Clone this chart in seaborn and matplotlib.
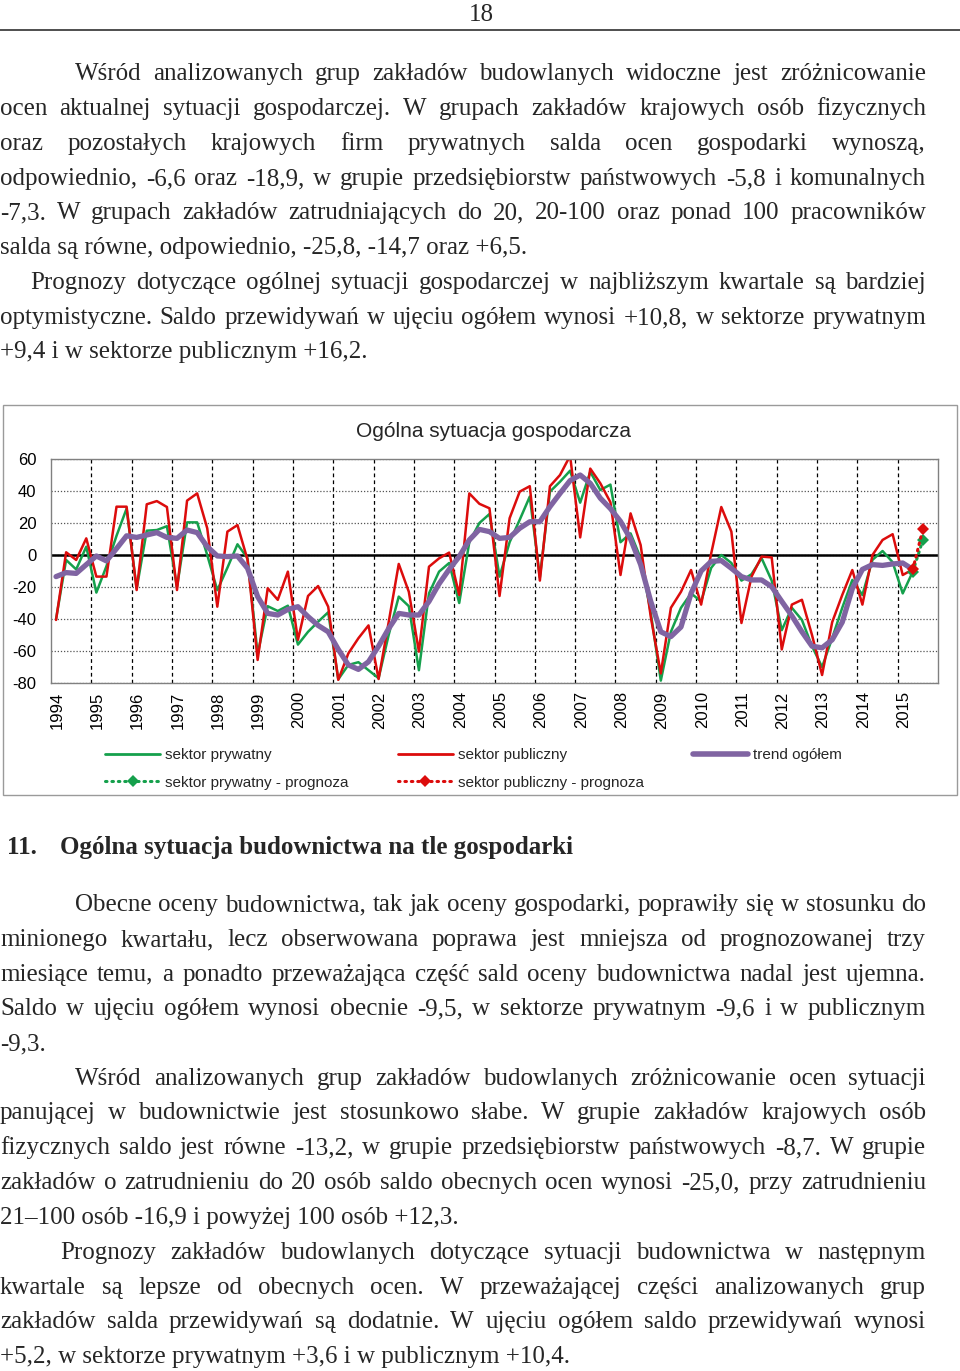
import numpy as np
import pandas as pd
import matplotlib
matplotlib.use("Agg")
import matplotlib.pyplot as plt
import seaborn as sns
from matplotlib.lines import Line2D
from matplotlib.patches import Rectangle

sns.set_theme(style="white")
plt.rcParams['font.family'] = ['Liberation Sans', 'DejaVu Sans']
plt.rcParams['axes.unicode_minus'] = False

# ---------------- data ----------------
start_year = 1994
tick_years = [str(y) for y in range(1994, 2016)]

sektor_prywatny = [
    -40.0, -3.1, -9.0, 5.2,
    -23.5, -7.0, 12.0, 29.0,
    -21.0, 15.2, 15.6, 18.0,
    -20.0, 20.4, 20.4, 0.0,
    -22.0, -8.0, 6.7, -2.0,
    -62.0, -32.0, -35.0, -31.7,
    -56.0, -48.0, -41.7, -35.8,
    -77.7, -68.7, -67.0, -72.0,
    -77.0, -50.0, -26.0, -32.0,
    -72.0, -24.0, -10.4, -5.0,
    -30.0, 8.0, 20.0, 25.6,
    -13.5, 8.0, 22.0, 36.5,
    -14.0, 39.6, 45.8, 52.7,
    32.7, 52.0, 40.6, 44.0,
    8.0, 13.5, -2.0, -36.0,
    -78.5, -48.0, -33.0, -24.0,
    -29.0, -8.0, 0.0, -5.0,
    -16.0, -12.0, -2.0, -16.0,
    -47.0, -33.0, -40.6, -57.0,
    -70.0, -52.0, -33.0, -15.6,
    -25.0, -3.0, 2.5, -4.5,
    -24.0, -10.4,
]

sektor_publiczny = [
    -40.6, 1.7, -3.1, 10.4,
    -13.5, -13.5, 30.2, 30.2,
    -21.9, 31.7, 33.7, 30.0,
    -21.9, 34.0, 38.5, 16.7,
    -32.3, 14.6, 18.7, -3.0,
    -65.6, -20.8, -28.0, -10.4,
    -53.0, -25.6, -19.4, -32.3,
    -78.0, -61.5, -52.0, -44.0,
    -77.5, -42.0, -5.6, -23.0,
    -60.4, -7.3, -2.1, 1.5,
    -25.0, 38.5, 32.0, 29.2,
    -25.6, 23.0, 39.6, 43.0,
    -16.0, 43.0, 50.0, 62.0,
    11.0, 54.0, 44.8, 33.0,
    -12.5, 26.0, 6.2, -38.5,
    -74.0, -33.0, -23.0, -9.4,
    -31.0, 1.0, 30.0, 14.6,
    -42.5, -13.5, -1.0, -1.5,
    -59.0, -31.0, -28.0, -50.0,
    -75.0, -42.0, -25.0, -9.4,
    -31.0, 0.0, 9.4, 13.0,
    -12.5, -9.0,
]

trend_ogolem = [
    -13.5, -11.0, -11.5, -6.0,
    -0.6, -3.7, 4.0, 12.0,
    11.0, 12.5, 14.0, 11.0,
    10.4, 15.6, 14.0, 5.2,
    -0.6, -1.0, -0.6, -8.3,
    -26.0, -36.5, -37.5, -34.0,
    -32.3, -38.5, -44.0, -48.0,
    -59.0, -68.7, -71.5, -66.7,
    -57.0, -46.0, -36.5, -37.5,
    -37.5, -29.0, -18.0, -9.0,
    -1.0, 9.4, 16.0, 14.6,
    10.4, 11.0, 16.7, 20.8,
    20.8, 30.2, 38.5, 46.5,
    50.0, 44.8, 35.5, 29.0,
    21.0, 10.0, -6.0, -29.0,
    -48.0, -51.0, -45.0, -24.0,
    -10.0, -4.0, -3.5, -8.3,
    -13.5, -15.6, -15.6, -19.8,
    -29.0, -38.0, -48.0, -57.0,
    -58.0, -53.0, -42.0, -21.0,
    -9.0, -6.0, -6.5, -5.6,
    -5.0, -9.0,
]

prognoza_prywatny = [-10.4, 9.4]
prognoza_publiczny = [-9.0, 16.2]

labels = ["sektor prywatny", "sektor prywatny - prognoza", "sektor publiczny",
          "sektor publiczny - prognoza", "trend ogółem"]

# ---------------- figure ----------------
W, H = 960, 1371
fig = plt.figure(figsize=(W / 100, H / 100), dpi=100)
fig.patch.set_facecolor("white")

def fx(x):
    return x / W

def fy(y):
    return 1 - y / H

GREEN = "#15a04c"
RED = "#dc0c0c"
PURPLE = "#8064a2"

ax = fig.add_axes([fx(51), fy(683), (938 - 51) / W, (683 - 459) / H])

n = len(sektor_publiczny)
t = start_year + (np.arange(n) + 0.5) / 4
df = pd.DataFrame({"t": t, "prywatny": sektor_prywatny,
                   "publiczny": sektor_publiczny, "trend": trend_ogolem})
fc = pd.DataFrame({"t": [t[-1], t[-1] + 0.25],
                   "prywatny": prognoza_prywatny, "publiczny": prognoza_publiczny})

sns.lineplot(data=df, x="t", y="prywatny", color=GREEN, lw=1.8, ax=ax)
sns.lineplot(data=df, x="t", y="publiczny", color=RED, lw=1.8, ax=ax)
sns.lineplot(data=df, x="t", y="trend", color=PURPLE, lw=3.8, ax=ax,
             solid_joinstyle="round", solid_capstyle="round")
sns.lineplot(data=fc, x="t", y="prywatny", color=GREEN, lw=2.2, ax=ax,
             linestyle=(0, (0.5, 1.6)), dash_capstyle="round",
             marker="D", markersize=6, markeredgewidth=0)
sns.lineplot(data=fc, x="t", y="publiczny", color=RED, lw=2.2, ax=ax,
             linestyle=(0, (0.5, 1.6)), dash_capstyle="round",
             marker="D", markersize=6, markeredgewidth=0)

ax.axhline(0, color="black", lw=1.8, zorder=1)
ax.set_xlim(1994, 2016)
ax.set_ylim(-80, 60)
ax.set_yticks(range(-80, 61, 20))
ax.set_xticks(np.arange(1995, 2016), minor=True)
ax.set_xticks(np.arange(1994, 2016) + 0.15, labels=tick_years, rotation=90)
ax.grid(which="minor", axis="x", color="black", lw=0.9, ls=(0, (3, 2.5)))
ax.grid(which="major", axis="y", color="#555555", lw=0.9, ls=(0, (1, 1.5)))
ax.grid(which="major", axis="x", visible=False)
ax.set_xlabel("")
ax.set_ylabel("")
ax.tick_params(axis="both", length=0, labelsize=12, colors="black")
ax.tick_params(axis="y", pad=10.5)
ax.tick_params(axis="x", pad=6)
for s in ax.spines.values():
    s.set_color("#808080")
    s.set_linewidth(1.0)
ax.set_facecolor("white")

fig.text(fx(493), fy(431), "Ogólna sytuacja gospodarcza", ha="center",
         va="center", fontsize=15)

handles = [
    Line2D([], [], color=GREEN, lw=2),
    Line2D([], [], color=GREEN, lw=2.2, ls=(0, (0.5, 1.6)), dash_capstyle="round",
           marker="D", markersize=6, markeredgewidth=0),
    Line2D([], [], color=RED, lw=2),
    Line2D([], [], color=RED, lw=2.2, ls=(0, (0.5, 1.6)), dash_capstyle="round",
           marker="D", markersize=6, markeredgewidth=0),
    Line2D([], [], color=PURPLE, lw=4),
]
fig.legend(handles, labels, ncol=3, loc="upper left",
           bbox_to_anchor=(fx(105), fy(748)), frameon=False, fontsize=11,
           handlelength=3.6, handletextpad=0.35, columnspacing=3.2,
           labelspacing=0.9, borderpad=0, borderaxespad=0)

fig.add_artist(Rectangle((fx(3), fy(795)), (957 - 3) / W, (795 - 405) / H,
                         transform=fig.transFigure, fill=False,
                         ec="#9a9a9a", lw=1.0))

# ---------------- page text ----------------
fig.add_artist(Line2D([0, 1], [fy(30), fy(30)], transform=fig.transFigure,
                      color="#404040", lw=1.3))
SERIF = ["Liberation Serif", "DejaVu Serif"]
FS = 18
fig.text(fx(481), fy(21), "18", ha="center", va="baseline", fontsize=FS,
         family=SERIF)

renderer = fig.canvas.get_renderer()

def put_line(text, x0, ycenter, justify=True, x1=926, bold=False):
    kw = dict(fontsize=FS, family=SERIF, va="baseline", ha="left",
              fontweight="bold" if bold else "normal")
    yb = fy(ycenter + 8)
    if not justify:
        fig.text(fx(x0), yb, text, **kw)
        return
    words = text.split(" ")
    objs = [fig.text(0, yb, w, **kw) for w in words]
    widths = [o.get_window_extent(renderer).width for o in objs]
    gap = (x1 - x0 - sum(widths)) / (len(words) - 1)
    x = x0
    for o, w in zip(objs, widths):
        o.set_position((fx(x), yb))
        x += w + gap

para1 = [
    ("Wśród analizowanych grup zakładów budowlanych widoczne jest zróżnicowanie", 75, 72, True),
    ("ocen aktualnej sytuacji gospodarczej. W grupach zakładów krajowych osób fizycznych", 0, 107, True),
    ("oraz pozostałych krajowych firm prywatnych salda ocen gospodarki wynoszą,", 0, 142, True),
    ("odpowiednio, -6,6 oraz -18,9, w grupie przedsiębiorstw państwowych -5,8 i komunalnych", 0, 177, True),
    ("-7,3. W grupach zakładów zatrudniających do 20, 20-100 oraz ponad 100 pracowników", 0, 211, True),
    ("salda są równe, odpowiednio, -25,8, -14,7 oraz +6,5.", 0, 246, False),
    ("Prognozy dotyczące ogólnej sytuacji gospodarczej w najbliższym kwartale są bardziej", 30, 281, True),
    ("optymistyczne. Saldo przewidywań w ujęciu ogółem wynosi +10,8, w sektorze prywatnym", 0, 316, True),
    ("+9,4 i w sektorze publicznym +16,2.", 0, 350, False),
]
para2 = [
    ("Obecne oceny budownictwa, tak jak oceny gospodarki, poprawiły się w stosunku do", 75, 903, True),
    ("minionego kwartału, lecz obserwowana poprawa jest mniejsza od prognozowanej trzy", 0, 938, True),
    ("miesiące temu, a ponadto przeważająca część sald oceny budownictwa nadal jest ujemna.", 0, 973, True),
    ("Saldo w ujęciu ogółem wynosi obecnie -9,5, w sektorze prywatnym -9,6 i w publicznym", 0, 1007, True),
    ("-9,3.", 0, 1042, False),
    ("Wśród analizowanych grup zakładów budowlanych zróżnicowanie ocen sytuacji", 75, 1077, True),
    ("panującej w budownictwie jest stosunkowo słabe. W grupie zakładów krajowych osób", 0, 1111, True),
    ("fizycznych saldo jest równe -13,2, w grupie przedsiębiorstw państwowych -8,7. W grupie", 0, 1146, True),
    ("zakładów o zatrudnieniu do 20 osób saldo obecnych ocen wynosi -25,0, przy zatrudnieniu", 0, 1181, True),
    ("21–100 osób -16,9 i powyżej 100 osób +12,3.", 0, 1216, False),
    ("Prognozy zakładów budowlanych dotyczące sytuacji budownictwa w następnym", 60, 1251, True),
    ("kwartale są lepsze od obecnych ocen. W przeważającej części analizowanych grup", 0, 1286, True),
    ("zakładów salda przewidywań są dodatnie. W ujęciu ogółem saldo przewidywań wynosi", 0, 1320, True),
    ("+5,2, w sektorze prywatnym +3,6 i w publicznym +10,4.", 0, 1355, False),
]
for txt, x0, yc, j in para1 + para2:
    put_line(txt, x0, yc, j)

put_line("11.", 7, 846, False, bold=True)
put_line("Ogólna sytuacja budownictwa na tle gospodarki", 60, 846, False, bold=True)

fig.savefig("out.png", dpi=100, facecolor="white")
